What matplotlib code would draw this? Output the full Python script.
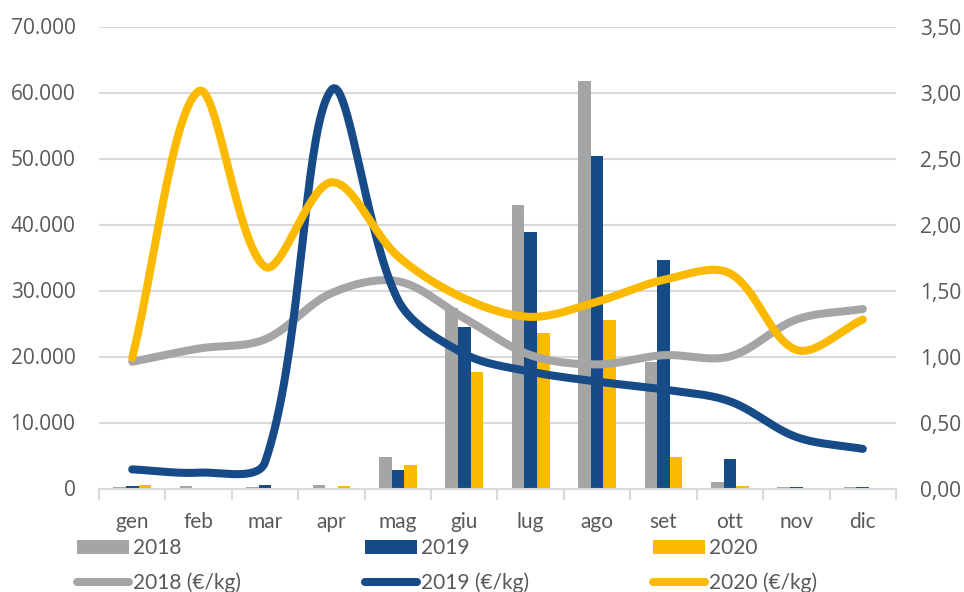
import matplotlib
matplotlib.use("Agg")
import matplotlib.pyplot as plt
from matplotlib.ticker import FixedLocator
import numpy as np

mesi = ["gen", "feb", "mar", "apr", "mag", "giu", "lug", "ago", "set", "ott", "nov", "dic"]

# quantita' (asse sinistro)
q_2018 = [270, 400, 300, 500, 4800, 27300, 42950, 61750, 19100, 1030, 300, 200]
q_2019 = [380, 150, 500, 100, 2800, 24400, 38900, 50400, 34600, 4500, 300, 200]
q_2020 = [530, 0, 150, 450, 3560, 17600, 23550, 25600, 4700, 380, 0, 0]

# prezzi €/kg (asse destro)
p_2018 = [0.96, 1.06, 1.13, 1.48, 1.57, 1.29, 1.01, 0.94, 1.01, 1.00, 1.28, 1.36]
p_2019 = [0.145, 0.12, 0.20, 3.02, 1.43, 1.02, 0.885, 0.81, 0.75, 0.66, 0.39, 0.30]
p_2020 = [0.99, 3.01, 1.68, 2.32, 1.76, 1.44, 1.30, 1.415, 1.58, 1.63, 1.05, 1.28]

tick_sx = [0, 10000, 20000, 30000, 40000, 50000, 60000, 70000]
tick_dx = [0, 0.5, 1.0, 1.5, 2.0, 2.5, 3.0, 3.5]

GRIGIO = "#A5A5A5"
BLU = "#174B87"
GIALLO = "#FBB900"
TESTO = "#595959"
GRIGLIA = "#D9D9D9"

# pixel per unita' (x: categoria, y: €/kg) per lo smussamento
SX, SY = 797 / 12, 462 / 3.5


def smooth(xs, ys, n=40):
    # linea smussata stile Excel: Bezier con tangenti pesate sulla lunghezza dei segmenti
    P = np.column_stack([np.asarray(xs) * SX, np.asarray(ys) * SY]).astype(float)
    m = len(P)
    out = []
    t = np.linspace(0, 1, n)[:, None]
    for i in range(m - 1):
        p0, p3 = P[i], P[i + 1]
        d = np.linalg.norm(p3 - p0)
        a = P[i - 1] if i > 0 else p0
        b = P[i + 2] if i + 2 < m else p3
        da = np.linalg.norm(p0 - a)
        db = np.linalg.norm(b - p3)
        c1 = p0 + (p3 - a) * d / (d + da) / 3 if da > 0 else p0 + (p3 - p0) / 3
        c2 = p3 - (b - p0) * d / (d + db) / 3 if db > 0 else p3 - (p3 - p0) / 3
        seg = (1 - t) ** 3 * p0 + 3 * (1 - t) ** 2 * t * c1 + 3 * (1 - t) * t ** 2 * c2 + t ** 3 * p3
        out.append(seg if i == 0 else seg[1:])
    out = np.vstack(out)
    return out[:, 0] / SX, out[:, 1] / SY


fig = plt.figure(figsize=(9.64, 5.92), dpi=100, facecolor="w")
ax = fig.add_axes([99 / 964, 1 - 488.5 / 592, 797 / 964, 462 / 592])
ax2 = ax.twinx()

x = np.arange(len(mesi))
w = 0.19
ax.bar(x - w, q_2018, w, color=GRIGIO, label="2018", zorder=2)
ax.bar(x, q_2019, w, color=BLU, label="2019", zorder=2)
ax.bar(x + w, q_2020, w, color=GIALLO, label="2020", zorder=2)

linee = []
for serie, col, lab in [(p_2018, GRIGIO, "2018 (€/kg)"), (p_2019, BLU, "2019 (€/kg)"), (p_2020, GIALLO, "2020 (€/kg)")]:
    sx, sy = smooth(x, serie)
    l, = ax2.plot(sx, sy, color=col, lw=5.8, solid_capstyle="round", solid_joinstyle="round", label=lab)
    linee.append(l)

ax.set_xlim(-0.5, 11.5)
ax.set_ylim(0, 70000)
ax2.set_ylim(0, 3.5)

ax.set_yticks(tick_sx)
ax.set_yticklabels([f"{v:,.0f}".replace(",", ".") for v in tick_sx], fontfamily="Open Sans", fontsize=15, color=TESTO)
ax2.set_yticks(tick_dx)
ax2.set_yticklabels([f"{v:.2f}".replace(".", ",") for v in tick_dx], fontfamily="Open Sans", fontsize=15, color=TESTO)
ax.tick_params(axis="y", length=0, pad=17)
ax2.tick_params(axis="y", length=0, pad=17)

ax.set_xticks(x)
ax.set_xticklabels(mesi, fontfamily="Lato", fontsize=15, color=TESTO)
ax.xaxis.set_minor_locator(FixedLocator(np.arange(-0.5, 12, 1)))
ax.tick_params(axis="x", which="major", length=0, pad=17)
ax.tick_params(axis="x", which="minor", length=8, width=1.5, color=GRIGLIA, direction="out")

ax.grid(axis="y", color=GRIGLIA, lw=1.5, zorder=0)
ax.set_axisbelow(True)
for a in (ax, ax2):
    for s in ("left", "right", "top", "bottom"):
        a.spines[s].set_visible(False)
ax.spines["bottom"].set_visible(True)
ax.spines["bottom"].set_color(GRIGLIA)
ax.spines["bottom"].set_linewidth(1.5)

barre, lab_b = ax.get_legend_handles_labels()
ordine = [barre[0], linee[0], barre[1], linee[1], barre[2], linee[2]]
etich = [lab_b[0], "2018 (€/kg)", lab_b[1], "2019 (€/kg)", lab_b[2], "2020 (€/kg)"]
fig.legend(ordine, etich, ncol=3, loc="upper left", bbox_to_anchor=(76.5 / 964, 1 - 538 / 592),
           frameon=False, prop={"family": "Lato", "size": 15}, labelcolor=TESTO,
           handlelength=2.5, handleheight=0.68, handletextpad=0.2, columnspacing=5.95,
           labelspacing=0.68, borderpad=0, borderaxespad=0)

fig.savefig("out.png", dpi=100)
